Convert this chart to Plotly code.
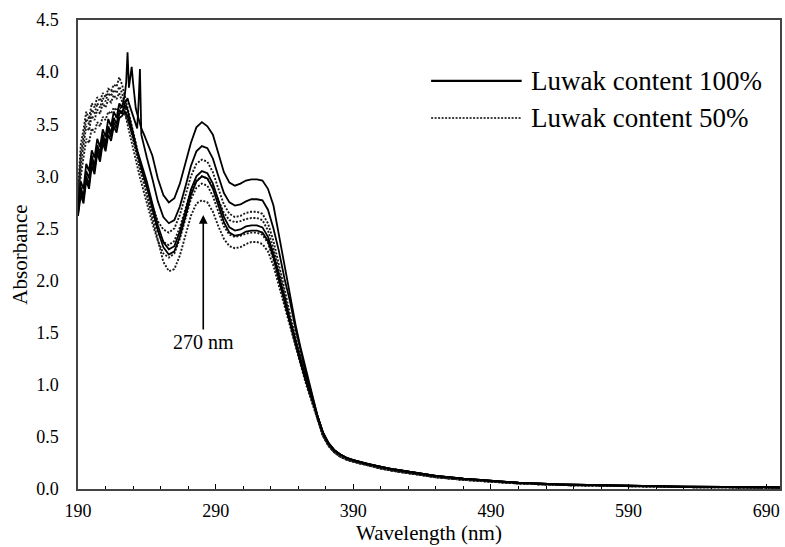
import plotly.graph_objects as go

# ---------------- data ----------------
WAVELENGTH_HEAD = [190, 192, 194, 196, 198, 200, 202, 204, 206, 208, 210, 212, 214, 216, 218, 220, 222,
                   224, 225, 226, 227, 228, 229, 230, 231, 232, 233, 234, 235, 236,
                   238, 240,
                   244, 248, 252, 256, 260, 264, 268, 272, 276, 280, 284, 288, 292, 296, 300, 304,
                   308, 312, 316, 320, 324, 328, 332, 336, 340, 344, 348, 352, 356, 360]
WAVELENGTH_TAIL = [364, 368, 372, 376, 380, 385, 390, 400, 410, 420, 435, 450, 470, 490, 510, 540, 580, 630, 700]

# Luwak content 100% (solid)
S1 = [2.70, 2.95, 2.88, 3.12, 3.05, 3.25, 3.18, 3.36, 3.28, 3.45, 3.38, 3.55, 3.48, 3.62, 3.56, 3.70, 3.66,
      3.78, 3.90, 4.19, 3.85, 3.95, 4.05, 3.90, 3.75, 3.65, 3.60, 3.55, 3.50, 3.46,
      3.40, 3.33,
      3.20, 2.98, 2.82, 2.75, 2.79, 2.93, 3.12, 3.32, 3.47, 3.52, 3.48, 3.40, 3.22, 3.04, 2.94, 2.91,
      2.93, 2.96, 2.97, 2.97, 2.96, 2.88, 2.72, 2.44, 2.16, 1.88, 1.58, 1.34, 1.12, 0.92]
S2 = [2.66, 2.90, 2.80, 3.05, 2.98, 3.20, 3.10, 3.30, 3.22, 3.40, 3.32, 3.48, 3.42, 3.56, 3.50, 3.64, 3.60,
      3.70, 3.72, 3.75, 3.70, 3.66, 3.62, 3.58, 3.55, 3.50, 3.46, 3.70, 4.03, 3.40,
      3.28, 3.18,
      2.98, 2.76, 2.61, 2.55, 2.58, 2.71, 2.90, 3.10, 3.24, 3.29, 3.27, 3.17, 3.00, 2.84, 2.75, 2.72,
      2.73, 2.76, 2.78, 2.78, 2.77, 2.68, 2.50, 2.28, 2.02, 1.80, 1.54, 1.30, 1.09, 0.90]
S3 = [2.64, 2.86, 2.78, 3.00, 2.92, 3.15, 3.06, 3.26, 3.18, 3.36, 3.28, 3.45, 3.38, 3.52, 3.46, 3.60, 3.62,
      3.66, 3.68, 3.64, 3.58, 3.52, 3.46, 3.40, 3.35, 3.30, 3.25, 3.21, 3.17, 3.13,
      3.04, 2.95,
      2.74, 2.53, 2.37, 2.30, 2.33, 2.47, 2.66, 2.87, 3.00, 3.05, 3.03, 2.93, 2.77, 2.61, 2.51, 2.48,
      2.49, 2.52, 2.53, 2.53, 2.51, 2.42, 2.26, 2.06, 1.84, 1.62, 1.42, 1.22, 1.04, 0.86]
S4 = [2.62, 2.82, 2.74, 2.96, 2.88, 3.10, 3.02, 3.22, 3.14, 3.32, 3.24, 3.40, 3.34, 3.48, 3.42, 3.56, 3.58,
      3.62, 3.60, 3.58, 3.53, 3.48, 3.42, 3.37, 3.31, 3.26, 3.21, 3.16, 3.12, 3.08,
      2.99, 2.90,
      2.69, 2.48, 2.32, 2.25, 2.28, 2.42, 2.61, 2.82, 2.95, 3.00, 2.98, 2.88, 2.72, 2.56, 2.46, 2.43,
      2.44, 2.47, 2.48, 2.48, 2.46, 2.38, 2.22, 2.02, 1.80, 1.59, 1.39, 1.20, 1.02, 0.85]

# Luwak content 50% (dotted)
D1 = [2.85, 3.30, 3.45, 3.62, 3.55, 3.70, 3.66, 3.76, 3.72, 3.80, 3.76, 3.84, 3.82, 3.88, 3.86, 3.95, 3.88,
      3.78, 3.72, 3.66, 3.60, 3.54, 3.48, 3.42, 3.36, 3.30, 3.25, 3.20, 3.15, 3.10,
      3.00, 2.91,
      2.72, 2.57, 2.49, 2.46, 2.50, 2.63, 2.82, 3.00, 3.12, 3.16, 3.14, 3.04, 2.88, 2.73, 2.64, 2.61,
      2.62, 2.65, 2.66, 2.66, 2.64, 2.55, 2.38, 2.16, 1.92, 1.68, 1.46, 1.25, 1.06, 0.88]
D2 = [2.80, 3.20, 3.38, 3.55, 3.50, 3.64, 3.60, 3.70, 3.66, 3.75, 3.72, 3.80, 3.77, 3.83, 3.80, 3.86, 3.80,
      3.70, 3.64, 3.58, 3.52, 3.46, 3.40, 3.34, 3.28, 3.22, 3.17, 3.12, 3.07, 3.02,
      2.92, 2.83,
      2.64, 2.47, 2.37, 2.34, 2.38, 2.51, 2.69, 2.86, 2.96, 3.00, 2.98, 2.90, 2.77, 2.65, 2.58, 2.56,
      2.57, 2.59, 2.60, 2.60, 2.58, 2.48, 2.31, 2.10, 1.87, 1.64, 1.43, 1.23, 1.04, 0.87]
D3 = [2.75, 3.10, 3.30, 3.48, 3.44, 3.58, 3.54, 3.64, 3.60, 3.70, 3.66, 3.74, 3.71, 3.78, 3.74, 3.80, 3.72,
      3.62, 3.56, 3.50, 3.44, 3.38, 3.32, 3.26, 3.20, 3.14, 3.09, 3.04, 2.99, 2.94,
      2.84, 2.74,
      2.55, 2.38, 2.26, 2.22, 2.26, 2.40, 2.59, 2.78, 2.89, 2.93, 2.91, 2.81, 2.66, 2.52, 2.44, 2.42,
      2.43, 2.45, 2.46, 2.46, 2.44, 2.36, 2.20, 2.00, 1.79, 1.58, 1.38, 1.19, 1.01, 0.84]
D4 = [2.70, 3.00, 3.18, 3.36, 3.32, 3.46, 3.42, 3.52, 3.48, 3.57, 3.54, 3.62, 3.60, 3.66, 3.63, 3.68, 3.62,
      3.60, 3.57, 3.54, 3.50, 3.46, 3.42, 3.37, 3.32, 3.27, 3.21, 3.15, 3.09, 3.03,
      2.95, 2.82,
      2.60, 2.38, 2.18, 2.09, 2.11, 2.24, 2.43, 2.62, 2.74, 2.77, 2.75, 2.66, 2.52, 2.40, 2.33, 2.31,
      2.32, 2.35, 2.37, 2.37, 2.35, 2.28, 2.14, 1.95, 1.75, 1.55, 1.36, 1.17, 0.99, 0.83]

TAIL_SOLID = [0.70, 0.54, 0.44, 0.375, 0.335, 0.30, 0.278, 0.242, 0.212, 0.187, 0.156, 0.126, 0.099,
              0.077, 0.061, 0.045, 0.032, 0.022, 0.016]
TAIL_DOTTED = [0.67, 0.51, 0.415, 0.355, 0.315, 0.283, 0.262, 0.227, 0.197, 0.172, 0.141, 0.113, 0.088,
               0.068, 0.053, 0.038, 0.027, 0.018, 0.012]

SERIES_100 = [S1, S2, S3, S4]
SERIES_50 = [D1, D2, D3, D4]
LEGEND_LABELS = ["Luwak content 100%", "Luwak content 50%"]
X_TICKS = [190, 290, 390, 490, 590, 690]
Y_TICKS = [0.0, 0.5, 1.0, 1.5, 2.0, 2.5, 3.0, 3.5, 4.0, 4.5]
PEAK_LABEL = "270 nm"
PEAK_X = 281

FONT = "Liberation Serif"
wl = WAVELENGTH_HEAD + WAVELENGTH_TAIL

fig = go.Figure()
for s in SERIES_50:
    fig.add_trace(go.Scatter(x=wl, y=s + TAIL_DOTTED, mode="lines", showlegend=False,
                             line=dict(color="#1a1a1a", width=1.9, dash="2px,1.6px")))
for s in SERIES_100:
    fig.add_trace(go.Scatter(x=wl, y=s + TAIL_SOLID, mode="lines", showlegend=False,
                             line=dict(color="black", width=1.8)))

# legend drawn manually (long line samples like the original)
legend_rows = [(0.870, "solid"), (0.791, "2px,1.5px")]
for (yp, dash), label in zip(legend_rows, LEGEND_LABELS):
    fig.add_shape(type="line", xref="paper", yref="paper", x0=0.503, x1=0.632, y0=yp, y1=yp,
                  line=dict(color="black", width=2.2 if dash == "solid" else 1.6, dash=dash))
    fig.add_annotation(xref="paper", yref="paper", x=0.642, y=yp, text=label, showarrow=False,
                       xanchor="left", yanchor="middle", font=dict(family=FONT, size=27, color="black"))

# peak annotation
fig.add_annotation(x=PEAK_X, y=2.63, ax=PEAK_X, ay=1.41, axref="x", ayref="y", xref="x", yref="y",
                   text=PEAK_LABEL, showarrow=True, arrowhead=2, arrowsize=1.1, arrowwidth=1.6,
                   arrowcolor="black", font=dict(family=FONT, size=20, color="black"))

fig.update_layout(
    width=785, height=547,
    margin=dict(l=78, r=3, t=20, b=58),
    paper_bgcolor="white", plot_bgcolor="white",
    font=dict(family=FONT, size=17, color="black"),
)
fig.update_xaxes(
    range=[190, 700], tickmode="array", tickvals=X_TICKS, ticktext=[str(v) for v in X_TICKS],
    ticks="inside", ticklen=5, tickwidth=1, tickcolor="black",
    minor=dict(dtick=20, tick0=190, ticks="inside", ticklen=3.5, tickcolor="black", tickwidth=1),
    showline=True, linecolor="#444", linewidth=1.5, mirror=True, showgrid=False, zeroline=False,
    tickfont=dict(family=FONT, size=18), ticklabelstandoff=5,
    title=dict(text="Wavelength (nm)", font=dict(family=FONT, size=21), standoff=0),
)
fig.update_yaxes(
    range=[0, 4.5], tickmode="array", tickvals=Y_TICKS, ticktext=[f"{v:.1f}" for v in Y_TICKS],
    ticks="", showline=True, linecolor="#444", linewidth=1.5, mirror=True, showgrid=False, zeroline=False,
    tickfont=dict(family=FONT, size=18), ticklabelstandoff=14,
    title=dict(text="Absorbance", font=dict(family=FONT, size=21), standoff=3),
)

fig.write_html("out.html")
